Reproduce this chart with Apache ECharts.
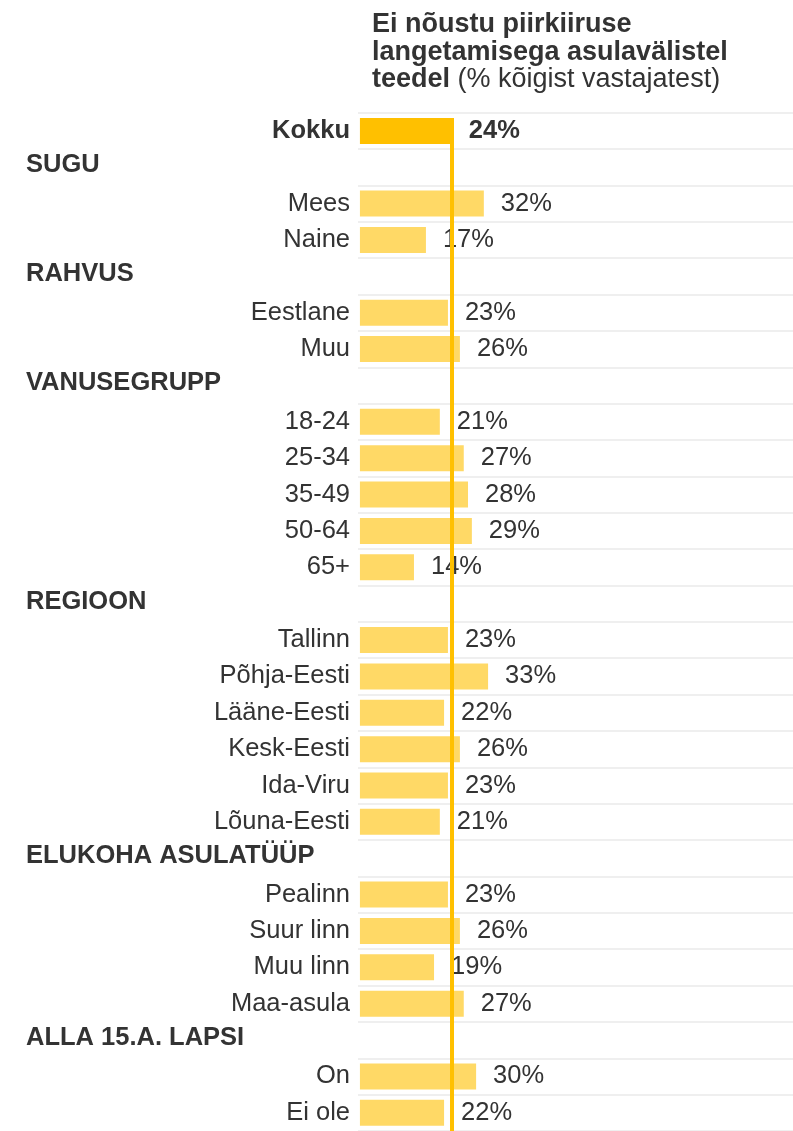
<!DOCTYPE html>
<html>
<head>
<meta charset="utf-8">
<script src="https://cdn.jsdelivr.net/npm/echarts@6/dist/echarts.min.js"></script>
<style>
html,body{margin:0;padding:0;background:#fff;}
#c{width:793px;height:1131px;}
</style>
</head>
<body>
<div id="c"></div>
<script>
const categories = ['Kokku','SUGU','Mees','Naine','RAHVUS','Eestlane','Muu','VANUSEGRUPP','18-24','25-34','35-49','50-64','65+','REGIOON','Tallinn','Põhja-Eesti','Lääne-Eesti','Kesk-Eesti','Ida-Viru','Lõuna-Eesti','ELUKOHA ASULATÜÜP','Pealinn','Suur linn','Muu linn','Maa-asula','ALLA 15.A. LAPSI','On','Ei ole'];
const values = [23.8, null, 32.1, 17.1, null, 22.8, 25.9, null, 20.7, 26.9, 28.0, 29.0, 14.0, null, 22.8, 33.2, 21.8, 25.9, 22.8, 20.7, null, 22.8, 25.9, 19.2, 26.9, null, 30.1, 21.8];
const headers = ['SUGU','RAHVUS','VANUSEGRUPP','REGIOON','ELUKOHA ASULATÜÜP','ALLA 15.A. LAPSI'];
const totalCategory = 'Kokku';
const titleLines = ['Ei nõustu piirkiiruse', 'langetamisega asulavälistel', 'teedel'];
const titleNote = '(% kõigist vastajatest)';

const FONT = '"Liberation Sans", Arial, Helvetica, sans-serif';
const TXT = '#333333';
const totalValue = values[categories.indexOf(totalCategory)];

const barData = values.map((v, i) => {
  if (v === null) return '-';
  if (categories[i] === totalCategory) {
    return {value: v, itemStyle: {color: '#FFC000'}, label: {fontWeight: 'bold'}};
  }
  return v;
});

const chart = echarts.init(document.getElementById('c'), null, {renderer: 'canvas'});
const option = {
  animation: false,
  backgroundColor: '#ffffff',
  title: {
    left: 367, top: 6,
    text: '{b|' + titleLines[0] + '}\n{b|' + titleLines[1] + '}\n{b|' + titleLines[2] + '}{n| ' + titleNote + '}',
    textStyle: {
      fontFamily: FONT, fontSize: 27, color: TXT, lineHeight: 27.5,
      rich: {
        b: {fontFamily: FONT, fontSize: 27, fontWeight: 'bold', color: TXT, lineHeight: 27.5},
        n: {fontFamily: FONT, fontSize: 27, fontWeight: 'normal', color: TXT, lineHeight: 27.5}
      }
    }
  },
  grid: {left: 358, right: 0, top: 112.7, height: 1019.8, containLabel: false},
  xAxis: {type: 'value', min: -0.5, max: 112.2, show: false},
  yAxis: {
    type: 'category', inverse: true, data: categories,
    axisLine: {show: false}, axisTick: {show: false},
    splitLine: {show: true, interval: 0, lineStyle: {color: '#efefef', width: 2}},
    axisLabel: {
      interval: 0, margin: 8, fontFamily: FONT, fontSize: 25.5, color: TXT,
      formatter: function (v) {
        if (headers.indexOf(v) >= 0) return '{h|' + v + '}';
        if (v === totalCategory) return '{t|' + v + '}';
        return v;
      },
      rich: {
        h: {fontFamily: FONT, fontSize: 25.5, fontWeight: 'bold', color: TXT, width: 324, align: 'left', padding: [0,0,4,0]},
        t: {fontFamily: FONT, fontSize: 25.5, fontWeight: 'bold', color: TXT}
      }
    }
  },
  series: [{
    type: 'bar', data: barData, barWidth: 26,
    itemStyle: {color: '#FFD966'},
    label: {
      show: true, position: 'right', distance: 17,
      fontFamily: FONT, fontSize: 25.5, color: TXT,
      formatter: p => Math.round(p.value) + '%'
    }
  }]
};
chart.setOption(option);

// reference line at the total value, from the top of the total bar to the bottom of the chart
const refPx = chart.convertToPixel({xAxisIndex: 0, yAxisIndex: 0}, [totalValue, totalCategory]);
const refTop = refPx[1] - 13;
chart.setOption({
  series: [{
    markLine: {
      silent: true, symbol: 'none', z: 10,
      label: {show: false},
      lineStyle: {color: '#FFC000', width: 4, type: 'solid'},
      data: [[{x: refPx[0], y: refTop}, {x: refPx[0], y: chart.getHeight()}]]
    }
  }]
});
</script>
</body>
</html>
